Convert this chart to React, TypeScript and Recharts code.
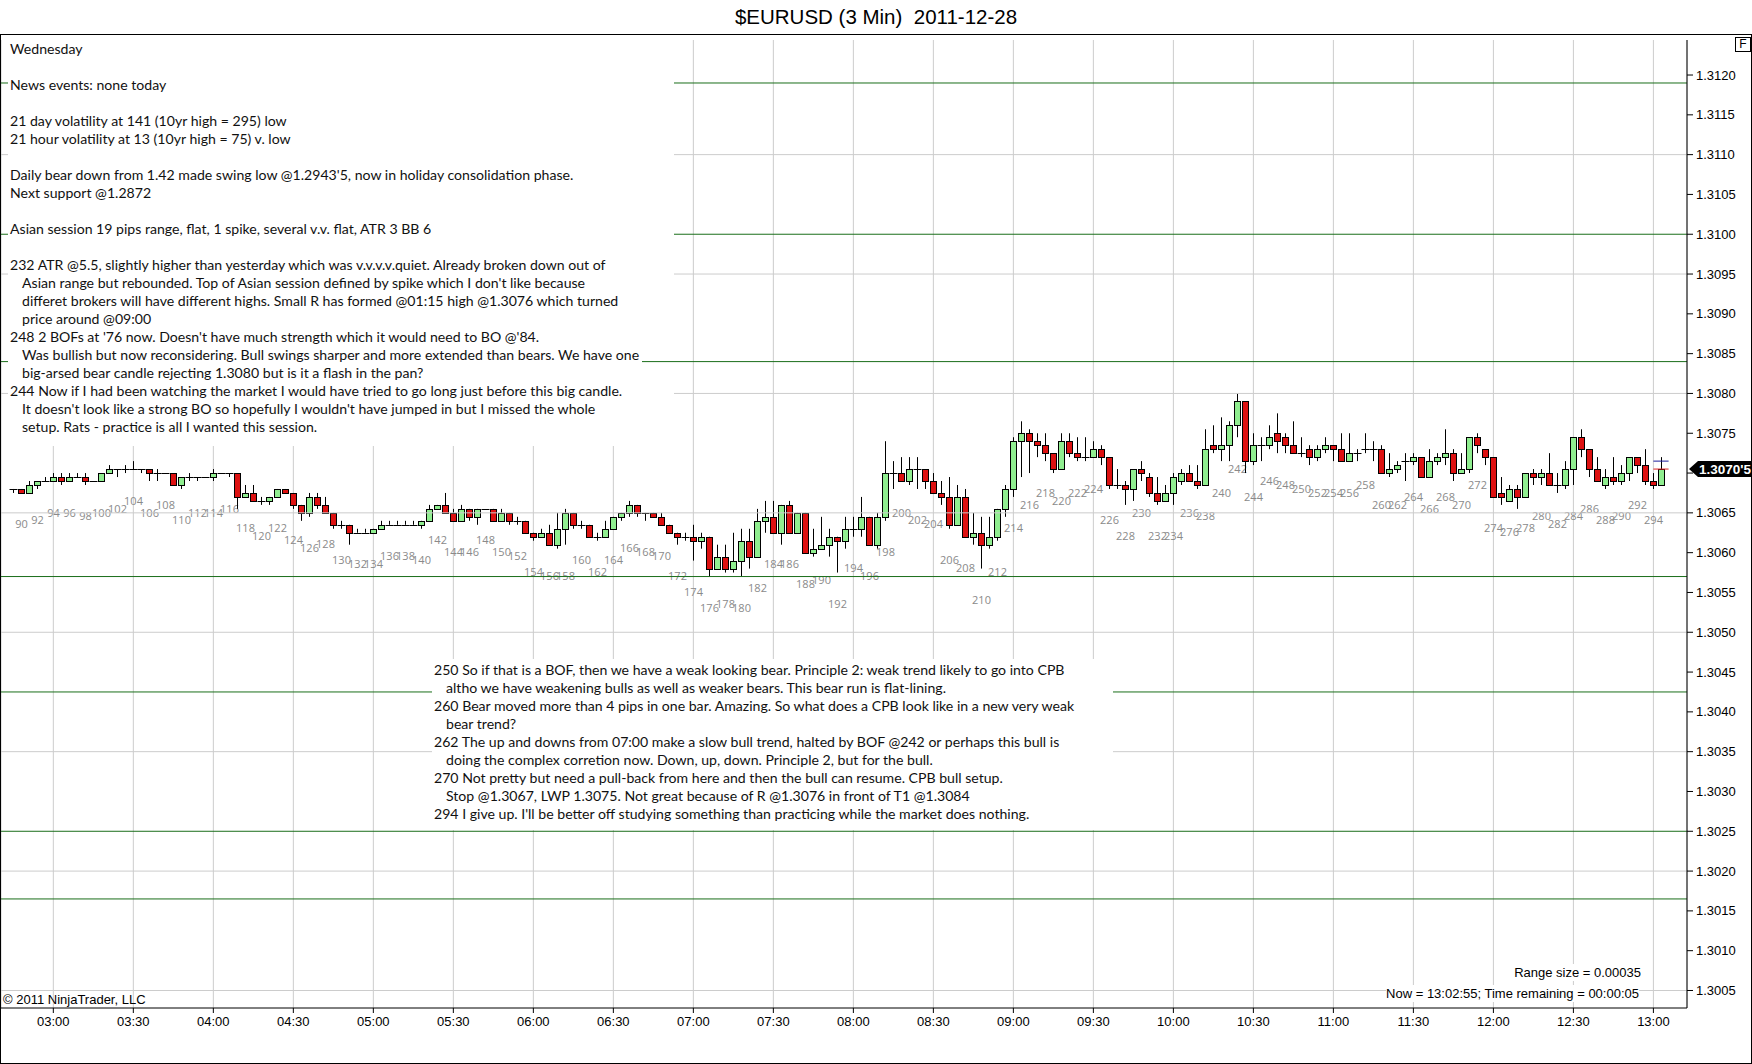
import React from 'react';
import { ComposedChart, Bar, XAxis, YAxis, CartesianGrid, ReferenceLine } from 'recharts';

// 3 min bars, numbered like the chart's bar counter
const FIRST_BAR = 89;

const open = [
  1.3068, 1.3068, 1.30675, 1.30685, 1.3069, 1.3069, 1.30695, 1.3069, 1.30695, 1.30695,
  1.3069, 1.3069, 1.307, 1.30705, 1.30705, 1.30705, 1.30705, 1.30705, 1.307, 1.307,
  1.307, 1.30685, 1.30695, 1.30695, 1.30695, 1.30695, 1.307, 1.307, 1.307, 1.3067,
  1.30675, 1.30665, 1.30665, 1.3067, 1.3068, 1.30675, 1.3066, 1.3065, 1.3067, 1.3066,
  1.3065, 1.30635, 1.30635, 1.30625, 1.30625, 1.30625, 1.3063, 1.30635, 1.30635, 1.30635,
  1.30635, 1.30635, 1.3064, 1.30655, 1.3066, 1.3065, 1.3064, 1.30655, 1.30645, 1.30655,
  1.30655, 1.3064, 1.3065, 1.3064, 1.3064, 1.30625, 1.3062, 1.30625, 1.3061, 1.3063,
  1.3065, 1.30635, 1.30635, 1.3062, 1.3062, 1.3063, 1.30645, 1.3065, 1.3066, 1.3065,
  1.3065, 1.30645, 1.30635, 1.30625, 1.3062, 1.3062, 1.30615, 1.3062, 1.3058, 1.30595,
  1.3058, 1.3059, 1.30615, 1.30595, 1.3064, 1.30645, 1.30625, 1.3066, 1.30625, 1.3065,
  1.306, 1.30605, 1.3061, 1.3062, 1.30615, 1.3063, 1.3063, 1.30645, 1.3061, 1.30645,
  1.307, 1.307, 1.3069, 1.30705, 1.30705, 1.3069, 1.30675, 1.3067, 1.30635, 1.3067,
  1.3062, 1.30625, 1.3061, 1.3062, 1.30655, 1.3068, 1.3074, 1.3075, 1.3074, 1.30735,
  1.30725, 1.30705, 1.3074, 1.30725, 1.3072, 1.3072, 1.3073, 1.3072, 1.30685, 1.30685,
  1.3068, 1.30705, 1.30695, 1.30675, 1.30665, 1.30675, 1.3069, 1.307, 1.3069, 1.30685,
  1.30735, 1.3073, 1.30735, 1.3076, 1.3079, 1.30715, 1.30735, 1.30735, 1.3075, 1.30745,
  1.30735, 1.30725, 1.3073, 1.3072, 1.3073, 1.30735, 1.3073, 1.30715, 1.30725, 1.3073,
  1.3073, 1.3073, 1.307, 1.30705, 1.30715, 1.30715, 1.3072, 1.30695, 1.30715, 1.3072,
  1.30725, 1.307, 1.30705, 1.30745, 1.3073, 1.3072, 1.30675, 1.30665, 1.3068, 1.3067,
  1.307, 1.30695, 1.307, 1.30685, 1.30685, 1.30705, 1.30745, 1.3073, 1.30705, 1.30685,
  1.30695, 1.3069, 1.307, 1.3072, 1.3071, 1.3069, 1.30685,
];

const high = [
  1.3068, 1.3068, 1.3069, 1.3069, 1.30695, 1.307, 1.307, 1.307, 1.307, 1.307,
  1.3069, 1.307, 1.3071, 1.30705, 1.3071, 1.30715, 1.30705, 1.30705, 1.30705, 1.307,
  1.307, 1.30695, 1.307, 1.30695, 1.30695, 1.30705, 1.307, 1.307, 1.307, 1.30685,
  1.30685, 1.3067, 1.3067, 1.3068, 1.3068, 1.30675, 1.3066, 1.30675, 1.30675, 1.3067,
  1.3065, 1.3064, 1.30635, 1.3063, 1.3063, 1.3063, 1.3064, 1.3064, 1.3064, 1.3064,
  1.3064, 1.3064, 1.3066, 1.3066, 1.30675, 1.30655, 1.3066, 1.30655, 1.30655, 1.30655,
  1.30655, 1.30655, 1.3065, 1.30645, 1.3064, 1.30625, 1.3063, 1.30635, 1.3065, 1.30655,
  1.3065, 1.3064, 1.30635, 1.30625, 1.3064, 1.30645, 1.3065, 1.30665, 1.3066, 1.3065,
  1.3065, 1.3065, 1.30635, 1.30625, 1.30625, 1.30635, 1.30625, 1.3062, 1.3061, 1.3061,
  1.30625, 1.3063, 1.3063, 1.30655, 1.30665, 1.30665, 1.3066, 1.30665, 1.3065, 1.3065,
  1.3063, 1.30645, 1.3063, 1.3062, 1.30645, 1.30645, 1.3067, 1.30645, 1.3065, 1.3074,
  1.30715, 1.3072, 1.3072, 1.3072, 1.30705, 1.307, 1.3069, 1.30695, 1.30685, 1.3068,
  1.3065, 1.30645, 1.30645, 1.30655, 1.30685, 1.30745, 1.30765, 1.30755, 1.3075, 1.3075,
  1.30725, 1.3075, 1.3075, 1.30745, 1.30745, 1.3074, 1.30735, 1.3072, 1.30705, 1.3069,
  1.30705, 1.30715, 1.307, 1.30695, 1.30685, 1.307, 1.30705, 1.3071, 1.3071, 1.30755,
  1.3076, 1.3077, 1.30765, 1.308, 1.3079, 1.3075, 1.30745, 1.3076, 1.30775, 1.3075,
  1.30765, 1.30745, 1.30735, 1.30735, 1.30745, 1.30735, 1.3075, 1.3075, 1.3073, 1.3075,
  1.3074, 1.30735, 1.30725, 1.30715, 1.30725, 1.30725, 1.3072, 1.3073, 1.30725, 1.30755,
  1.3073, 1.30725, 1.30745, 1.3075, 1.3073, 1.3072, 1.30695, 1.30685, 1.30685, 1.307,
  1.30705, 1.30705, 1.30725, 1.307, 1.30715, 1.30745, 1.30755, 1.3073, 1.3072, 1.30705,
  1.3072, 1.3071, 1.3072, 1.3072, 1.3073, 1.307, 1.3072,
];

const low = [
  1.30675, 1.30675, 1.30675, 1.3068, 1.3069, 1.3069, 1.30685, 1.3069, 1.30695, 1.30685,
  1.3069, 1.3069, 1.307, 1.30695, 1.307, 1.30705, 1.307, 1.3069, 1.3069, 1.307,
  1.30685, 1.3068, 1.3069, 1.3069, 1.30695, 1.3069, 1.307, 1.30695, 1.30655, 1.3067,
  1.30665, 1.3066, 1.3066, 1.3067, 1.30675, 1.30655, 1.3064, 1.30645, 1.30655, 1.3065,
  1.3063, 1.3063, 1.3061, 1.30625, 1.30625, 1.30625, 1.3063, 1.30635, 1.30635, 1.30635,
  1.30635, 1.3063, 1.3064, 1.30655, 1.3065, 1.3064, 1.3064, 1.3064, 1.30635, 1.30655,
  1.3064, 1.3064, 1.30635, 1.30635, 1.30625, 1.30615, 1.3062, 1.3061, 1.30605, 1.3061,
  1.3063, 1.3063, 1.3062, 1.30615, 1.3062, 1.3063, 1.3064, 1.30645, 1.30645, 1.3064,
  1.30645, 1.30635, 1.30625, 1.3061, 1.30615, 1.3059, 1.30605, 1.3057, 1.3058, 1.30575,
  1.30575, 1.3057, 1.3058, 1.30595, 1.30625, 1.30625, 1.3061, 1.30625, 1.30625, 1.306,
  1.30595, 1.30605, 1.30595, 1.30575, 1.30605, 1.3062, 1.3062, 1.3061, 1.30605, 1.3064,
  1.3068, 1.3069, 1.30685, 1.3068, 1.3068, 1.30675, 1.3066, 1.3063, 1.30635, 1.3062,
  1.3061, 1.3058, 1.30605, 1.30615, 1.30645, 1.3067, 1.30695, 1.307, 1.3072, 1.30715,
  1.307, 1.30705, 1.3072, 1.30715, 1.30715, 1.3072, 1.3071, 1.3068, 1.3068, 1.3066,
  1.30665, 1.3069, 1.3067, 1.3066, 1.30665, 1.3066, 1.30685, 1.3069, 1.3068, 1.30685,
  1.30725, 1.30715, 1.30715, 1.30745, 1.307, 1.3071, 1.30715, 1.3073, 1.30725, 1.30725,
  1.30725, 1.3072, 1.3071, 1.30715, 1.30725, 1.30715, 1.30715, 1.30715, 1.30715, 1.30725,
  1.30715, 1.307, 1.30695, 1.307, 1.3069, 1.3071, 1.30695, 1.30695, 1.3071, 1.3071,
  1.3069, 1.307, 1.307, 1.30725, 1.3071, 1.3067, 1.3066, 1.30665, 1.30655, 1.3067,
  1.30685, 1.30685, 1.30685, 1.30675, 1.3068, 1.30685, 1.3072, 1.30695, 1.3069, 1.3068,
  1.30685, 1.30685, 1.3069, 1.307, 1.30685, 1.3068, 1.30685,
];

const close = [
  1.3068, 1.30675, 1.30685, 1.3069, 1.3069, 1.30695, 1.3069, 1.30695, 1.30695, 1.3069,
  1.3069, 1.307, 1.30705, 1.30705, 1.30705, 1.30705, 1.30705, 1.307, 1.307, 1.307,
  1.30685, 1.30695, 1.30695, 1.30695, 1.30695, 1.307, 1.307, 1.307, 1.3067, 1.30675,
  1.30665, 1.30665, 1.3067, 1.3068, 1.30675, 1.3066, 1.3065, 1.3067, 1.3066, 1.3065,
  1.30635, 1.30635, 1.30625, 1.30625, 1.30625, 1.3063, 1.30635, 1.30635, 1.30635, 1.30635,
  1.30635, 1.3064, 1.30655, 1.3066, 1.3065, 1.3064, 1.30655, 1.30645, 1.30655, 1.30655,
  1.3064, 1.3065, 1.3064, 1.3064, 1.30625, 1.3062, 1.30625, 1.3061, 1.3063, 1.3065,
  1.30635, 1.30635, 1.3062, 1.3062, 1.3063, 1.30645, 1.3065, 1.3066, 1.3065, 1.3065,
  1.30645, 1.30635, 1.30625, 1.3062, 1.3062, 1.30615, 1.3062, 1.3058, 1.30595, 1.3058,
  1.3059, 1.30615, 1.30595, 1.3064, 1.30645, 1.30625, 1.3066, 1.30625, 1.3065, 1.306,
  1.30605, 1.3061, 1.3062, 1.30615, 1.3063, 1.3063, 1.30645, 1.3061, 1.30645, 1.307,
  1.307, 1.3069, 1.30705, 1.30705, 1.3069, 1.30675, 1.3067, 1.30635, 1.3067, 1.3062,
  1.30625, 1.3061, 1.3062, 1.30655, 1.3068, 1.3074, 1.3075, 1.3074, 1.30735, 1.30725,
  1.30705, 1.3074, 1.30725, 1.3072, 1.3072, 1.3073, 1.3072, 1.30685, 1.30685, 1.3068,
  1.30705, 1.307, 1.30675, 1.30665, 1.30675, 1.30695, 1.307, 1.3069, 1.30685, 1.3073,
  1.3073, 1.30735, 1.3076, 1.3079, 1.30715, 1.30735, 1.30735, 1.30745, 1.3074, 1.30735,
  1.30725, 1.30725, 1.3072, 1.3073, 1.30735, 1.3073, 1.30715, 1.30725, 1.30725, 1.3073,
  1.3073, 1.307, 1.30705, 1.3071, 1.30715, 1.3072, 1.30695, 1.30715, 1.3072, 1.30725,
  1.307, 1.30705, 1.30745, 1.30735, 1.3072, 1.3067, 1.3067, 1.3068, 1.3067, 1.307,
  1.30695, 1.307, 1.30685, 1.30685, 1.30705, 1.30745, 1.3073, 1.30705, 1.3069, 1.30695,
  1.3069, 1.307, 1.3072, 1.3071, 1.3069, 1.30685, 1.30705,
];

const timeTicks = [94, 104, 114, 124, 134, 144, 154, 164, 174, 184, 194, 204, 214, 224, 234, 244, 254, 264, 274, 284, 294];
const timeLabels = ['03:00', '03:30', '04:00', '04:30', '05:00', '05:30', '06:00', '06:30', '07:00', '07:30', '08:00',
  '08:30', '09:00', '09:30', '10:00', '10:30', '11:00', '11:30', '12:00', '12:30', '13:00'];

const priceTicks = [1.3005, 1.301, 1.3015, 1.302, 1.3025, 1.303, 1.3035, 1.304, 1.3045, 1.305, 1.3055, 1.306,
  1.3065, 1.307, 1.3075, 1.308, 1.3085, 1.309, 1.3095, 1.31, 1.3105, 1.311, 1.3115, 1.312];
const gridPrices = [1.3005, 1.302, 1.3035, 1.305, 1.3065, 1.308, 1.3095, 1.311];

// hand drawn horizontal lines
const levelPrices = [1.3119, 1.31, 1.3084, 1.3057, 1.30425, 1.3025, 1.30165];
const askPrice = 1.30715;
const lastPrice = 1.30705;

const notesTop = [
  'Wednesday',
  '',
  'News events: none today',
  '',
  '21 day volatility at 141 (10yr high = 295) low',
  '21 hour volatility at 13 (10yr high = 75) v. low',
  '',
  "Daily bear down from 1.42 made swing low @1.2943'5, now in holiday consolidation phase.",
  'Next support @1.2872',
  '',
  'Asian session 19 pips range, flat, 1 spike, several v.v. flat, ATR 3 BB 6',
  '',
  '232 ATR @5.5, slightly higher than yesterday which was v.v.v.v.quiet. Already broken down out of',
  "\tAsian range but rebounded. Top of Asian session defined by spike which I don't like because",
  '\tdifferet brokers will have different highs. Small R has formed @01:15 high @1.3076 which turned',
  '\tprice around @09:00',
  "248 2 BOFs at '76 now. Doesn't have much strength which it would need to BO @'84.",
  '\tWas bullish but now reconsidering. Bull swings sharper and more extended than bears. We have one',
  '\tbig-arsed bear candle rejecting 1.3080 but is it a flash in the pan?',
  '244 Now if I had been watching the market I would have tried to go long just before this big candle.',
  "\tIt doesn't look like a strong BO so hopefully I wouldn't have jumped in but I missed the whole",
  '\tsetup. Rats - practice is all I wanted this session.',
];

const notesBottom = [
  '250 So if that is a BOF, then we have a weak looking bear. Principle 2: weak trend likely to go into CPB',
  '\taltho we have weakening bulls as well as weaker bears. This bear run is flat-lining.',
  '260 Bear moved more than 4 pips in one bar. Amazing. So what does a CPB look like in a new very weak',
  '\tbear trend?',
  '262 The up and downs from 07:00 make a slow bull trend, halted by BOF @242 or perhaps this bull is',
  '\tdoing the complex corretion now. Down, up, down. Principle 2, but for the bull.',
  '270 Not pretty but need a pull-back from here and then the bull can resume. CPB bull setup.',
  '\tStop @1.3067, LWP 1.3075. Not great because of R @1.3076 in front of T1 @1.3084',
  "294 I give up. I'll be better off studying something than practicing while the market does nothing.",
];

const Y_MIN = 1.30028;
const Y_MAX = 1.31244;
const X_MIN = 87.46;
const X_MAX = 298.2;

const AXIS_FONT = '"Liberation Sans", Arial, sans-serif';
const NOTE_FONT = 'Lato, "Noto Sans", sans-serif';
const UP = '#90EE90';
const DOWN = '#DD1111';
const GRID = '#cccccc';
const LEVEL = '#1a6e1a';

const bars = open.map((o, i) => ({
  n: FIRST_BAR + i,
  open: o,
  high: high[i],
  low: low[i],
  close: close[i],
  span: [Y_MIN, high[i]],
}));

function Candle(props: any) {
  const { x, y, width, height, index } = props;
  const d = props.payload && props.payload.open !== undefined ? props.payload : bars[index];
  if (!d || height == null) return null;
  const k = height / (d.high - Y_MIN);
  const py = (p: number) => y + (d.high - p) * k;
  const cx = Math.round(x + width / 2) + 0.5;
  const yh = py(d.high);
  const yl = py(d.low);
  const yo = py(d.open);
  const yc = py(d.close);
  const top = Math.min(yo, yc);
  const bot = Math.max(yo, yc);
  const flat = bot - top < 1;
  return (
    <g>
      <line x1={cx} x2={cx} y1={yh} y2={yl} stroke="#000" strokeWidth={1} />
      {flat ? (
        <line x1={cx - 4} x2={cx + 4} y1={Math.round(yo) + 0.5} y2={Math.round(yo) + 0.5} stroke="#000" strokeWidth={1} />
      ) : (
        <rect
          x={cx - 3}
          y={Math.round(top) + 0.5}
          width={6}
          height={Math.round(bot - top)}
          fill={d.close > d.open ? UP : DOWN}
          stroke="#000"
          strokeWidth={1}
        />
      )}
      {d.n % 2 === 0 && (
        <text x={cx} y={yl + 35.5} textAnchor="middle" fontSize={11} fill="#8a8a8a" fontFamily='"Open Sans", sans-serif'>
          {d.n}
        </text>
      )}
    </g>
  );
}

function PriceTag(props: any) {
  const vb = props.viewBox || {};
  const x = vb.x + vb.width + 2;
  const y = vb.y;
  const s = lastPrice.toFixed(5);
  const txt = s.slice(0, 6) + "'" + s.slice(6);
  return (
    <g>
      <polygon points={`${x},${y} ${x + 9},${y - 8} ${x + 70},${y - 8} ${x + 70},${y + 8} ${x + 9},${y + 8}`} fill="#000" />
      <text x={x + 10} y={y + 5} fill="#fff" fontSize={13.5} fontWeight="bold" fontFamily={AXIS_FONT}>
        {txt}
      </text>
    </g>
  );
}

function NoteLines({ lines, left, top }: { lines: string[]; left: number; top: number }) {
  return (
    <div style={{ position: 'absolute', left, top, fontFamily: NOTE_FONT, fontSize: 14.1, color: '#111', whiteSpace: 'pre' }}>
      {lines.map((t, i) => (
        <div key={i} style={{ height: 18, lineHeight: '18px', paddingLeft: t.startsWith('\t') ? 12 : 0 }}>
          {t.replace('\t', '') || ' '}
        </div>
      ))}
    </div>
  );
}

const white = (left: number, top: number, width: number, height: number) => (
  <div style={{ position: 'absolute', left, top, width, height, background: '#fff' }} />
);

export default function App() {
  return (
    <div style={{ position: 'relative', width: 1752, height: 1064, background: '#fff', overflow: 'hidden' }}>
      <style>{'body{margin:0}'}</style>
      <div
        style={{
          position: 'absolute', left: 0, top: 3, width: 1752, textAlign: 'center',
          fontFamily: AXIS_FONT, fontSize: 20.5, lineHeight: '28px', whiteSpace: 'pre', color: '#000',
        }}
      >
        {'$EURUSD (3 Min)  2011-12-28'}
      </div>
      <div style={{ position: 'absolute', left: 0, top: 0 }}>
        <ComposedChart width={1752} height={1064} data={bars} margin={{ top: 40, right: 0, bottom: 0, left: 1 }}>
          <CartesianGrid horizontal={false} stroke={GRID} />
          <XAxis
            dataKey="n"
            type="number"
            domain={[X_MIN, X_MAX]}
            allowDataOverflow
            ticks={timeTicks}
            interval={0}
            tickFormatter={(v: number) => timeLabels[timeTicks.indexOf(v)] ?? ''}
            height={56}
            tickSize={5}
            tickMargin={4}
            axisLine={{ stroke: '#000' }}
            tickLine={{ stroke: '#000' }}
            tick={{ fill: '#000', fontSize: 13, fontFamily: AXIS_FONT }}
          />
          <YAxis
            orientation="right"
            type="number"
            domain={[Y_MIN, Y_MAX]}
            allowDataOverflow
            ticks={priceTicks}
            interval={0}
            // the last-price tag sits on top of this label
            tickFormatter={(v: number) => (Math.abs(v - lastPrice) < 0.0001 ? '' : v.toFixed(4))}
            width={65}
            tickSize={6}
            tickMargin={3}
            axisLine={{ stroke: '#000' }}
            tickLine={{ stroke: '#000' }}
            tick={{ fill: '#000', fontSize: 13, fontFamily: AXIS_FONT }}
          />
          {gridPrices.map((p) => (
            <ReferenceLine key={'g' + p} y={p} stroke={GRID} strokeWidth={1} />
          ))}
          {levelPrices.map((p) => (
            <ReferenceLine key={'l' + p} y={p} stroke={LEVEL} strokeWidth={1} />
          ))}
          <Bar dataKey="span" barSize={6} shape={Candle} isAnimationActive={false} />
          <ReferenceLine segment={[{ x: 294, y: askPrice }, { x: 295.9, y: askPrice }]} stroke="#1c1c9c" strokeWidth={1} />
          <ReferenceLine segment={[{ x: 294, y: lastPrice }, { x: 295.9, y: lastPrice }]} stroke="#dd2222" strokeWidth={1} />
          <ReferenceLine y={lastPrice} stroke="none" label={<PriceTag />} />
        </ComposedChart>
      </div>

      {/* note boxes mask the grid like the platform's text objects */}
      {white(8, 35, 666, 320)}
      {white(8, 355, 634, 14)}
      {white(8, 369, 666, 77)}
      {white(432, 659, 681, 171)}
      <NoteLines lines={notesTop} left={10} top={40} />
      <NoteLines lines={notesBottom} left={434} top={661} />

      <div
        style={{
          position: 'absolute', right: 1752 - 1641, top: 964, fontFamily: AXIS_FONT, fontSize: 13,
          lineHeight: '17px', background: '#fff', color: '#000',
        }}
      >
        Range size = 0.00035
      </div>
      <div
        style={{
          position: 'absolute', right: 1752 - 1639, top: 985, fontFamily: AXIS_FONT, fontSize: 13,
          lineHeight: '17px', background: '#fff', color: '#000',
        }}
      >
        Now = 13:02:55; Time remaining = 00:00:05
      </div>
      <div style={{ position: 'absolute', left: 3, top: 991, fontFamily: AXIS_FONT, fontSize: 13, lineHeight: '17px', color: '#000' }}>
        © 2011 NinjaTrader, LLC
      </div>

      <div
        style={{
          position: 'absolute', left: 0, top: 34, width: 1752, height: 1030, border: '1px solid #000',
          boxSizing: 'border-box', pointerEvents: 'none',
        }}
      />
      <div
        style={{
          position: 'absolute', left: 1735, top: 37, width: 16, height: 15, border: '1px solid #000', boxSizing: 'border-box',
          fontFamily: AXIS_FONT, fontSize: 12, lineHeight: '13px', textAlign: 'center', background: '#fff',
        }}
      >
        F
      </div>
    </div>
  );
}
